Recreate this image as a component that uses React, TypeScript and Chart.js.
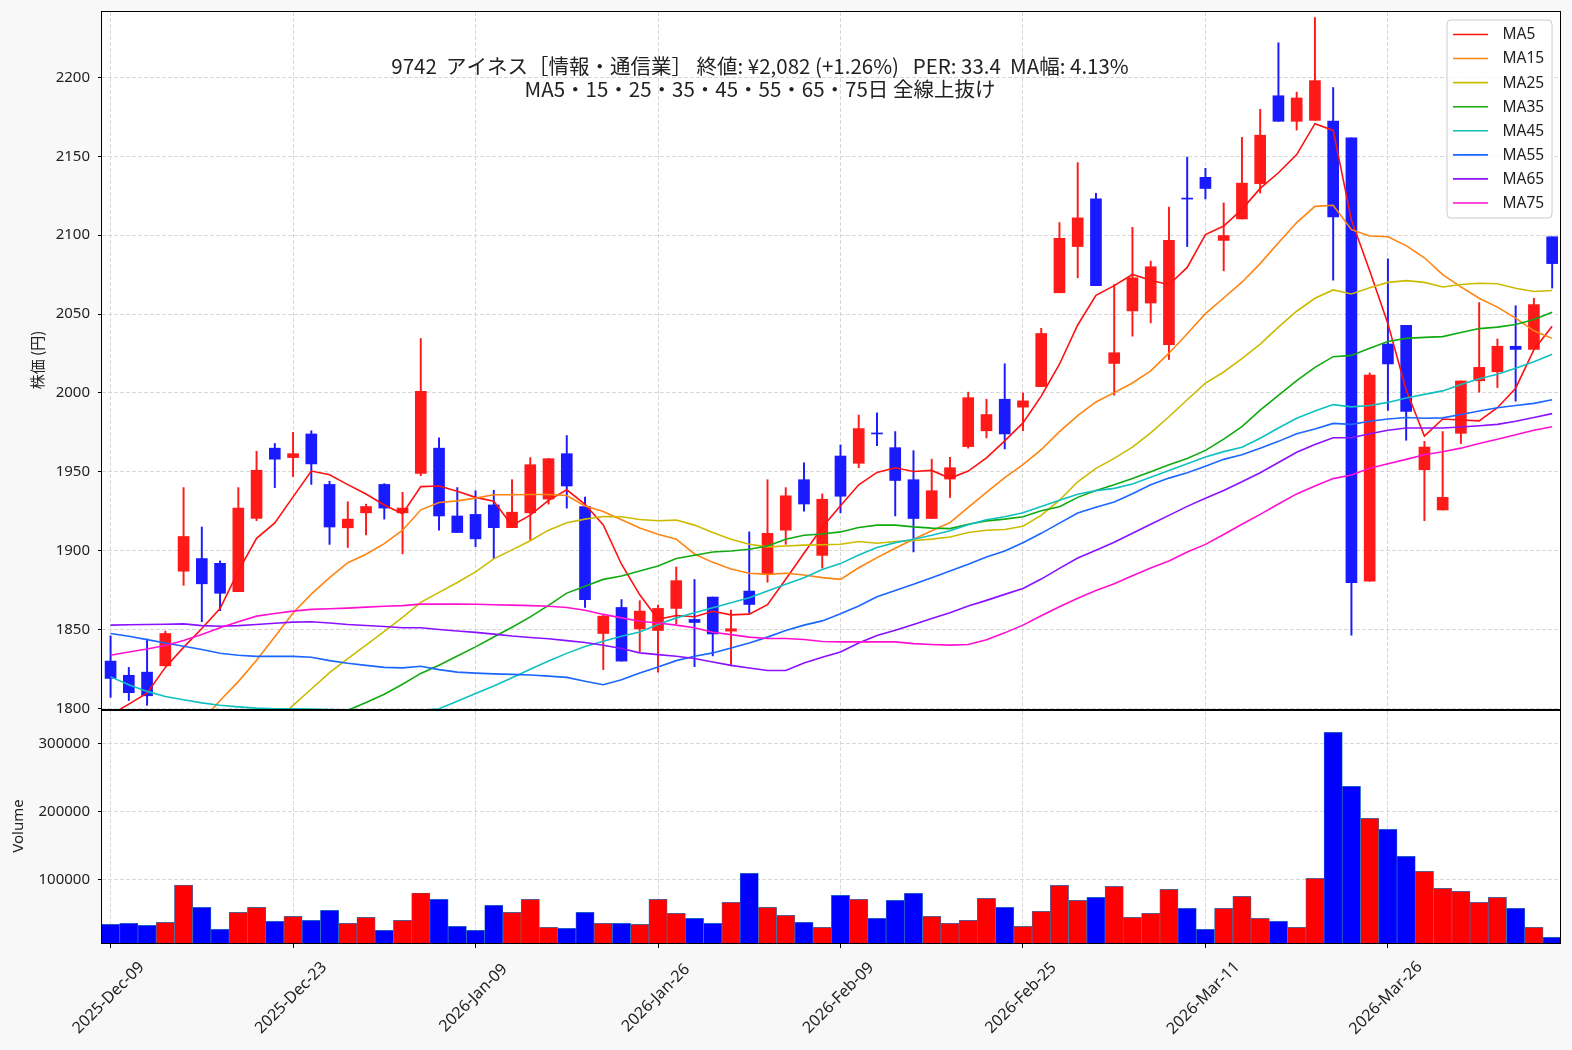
import React, { useEffect, useRef } from "react";
import { Chart, registerables } from "chart.js";

Chart.register(...registerables);

// ---------------- data ----------------
const dates = [
  "2025-Dec-09","2025-Dec-10","2025-Dec-11","2025-Dec-12","2025-Dec-15","2025-Dec-16","2025-Dec-17","2025-Dec-18","2025-Dec-19","2025-Dec-22",
  "2025-Dec-23","2025-Dec-24","2025-Dec-25","2025-Dec-26","2025-Dec-29","2025-Dec-30","2026-Jan-05","2026-Jan-06","2026-Jan-07","2026-Jan-08",
  "2026-Jan-09","2026-Jan-13","2026-Jan-14","2026-Jan-15","2026-Jan-16","2026-Jan-19","2026-Jan-20","2026-Jan-21","2026-Jan-22","2026-Jan-23",
  "2026-Jan-26","2026-Jan-27","2026-Jan-28","2026-Jan-29","2026-Jan-30","2026-Feb-02","2026-Feb-03","2026-Feb-04","2026-Feb-05","2026-Feb-06",
  "2026-Feb-09","2026-Feb-10","2026-Feb-12","2026-Feb-13","2026-Feb-16","2026-Feb-17","2026-Feb-18","2026-Feb-19","2026-Feb-20","2026-Feb-24",
  "2026-Feb-25","2026-Feb-26","2026-Feb-27","2026-Mar-02","2026-Mar-03","2026-Mar-04","2026-Mar-05","2026-Mar-06","2026-Mar-09","2026-Mar-10",
  "2026-Mar-11","2026-Mar-12","2026-Mar-13","2026-Mar-16","2026-Mar-17","2026-Mar-18","2026-Mar-19","2026-Mar-23","2026-Mar-24","2026-Mar-25",
  "2026-Mar-26","2026-Mar-27","2026-Mar-30","2026-Mar-31","2026-Apr-01","2026-Apr-02","2026-Apr-03","2026-Apr-06","2026-Apr-07","2026-Apr-08",
];
const dateTickIndex = [0, 10, 20, 30, 40, 50, 60, 70];

const opens = [
  1830, 1821, 1823, 1827, 1887, 1895, 1892, 1874, 1920.5, 1965,
  1959, 1974, 1942, 1914.5, 1924, 1942, 1924, 1949, 1965, 1922,
  1923, 1929, 1914.6, 1924, 1932.7, 1961.5, 1928, 1847.5, 1864, 1850.4,
  1849.4, 1863.4, 1856.4, 1870.6, 1849, 1874.4, 1885, 1913, 1945, 1897,
  1960, 1955.4, 1974.5, 1965.3, 1945, 1920.4, 1945.4, 1966, 1976, 1996,
  1991, 2004, 2063.5, 2092.8, 2123, 2018.7, 2052, 2057, 2030.6, 2123.5,
  2136.7, 2096.7, 2110.3, 2132.7, 2188.4, 2172.2, 2172.8, 2172.4, 2161.7, 1880.6,
  2031, 2042.8, 1951.3, 1925.8, 1974.4, 2007.7, 2013.4, 2029.6, 2027.6, 2099,
];
const highs = [
  1846, 1826, 1844, 1849, 1940, 1915, 1893.5, 1940, 1963, 1968,
  1975, 1976, 1944, 1931, 1929.5, 1942.5, 1937, 2034.5, 1971.5, 1940,
  1938, 1938.3, 1945, 1959, 1958.5, 1973, 1934, 1859, 1869, 1868.3,
  1865.5, 1889.7, 1881.7, 1870.6, 1862.3, 1911.9, 1945, 1940, 1955.7, 1936,
  1967, 1986, 1987.4, 1975.5, 1963.4, 1958, 1959.2, 2000.5, 1996, 2018.5,
  2000, 2041, 2108, 2146, 2126.6, 2068.7, 2105, 2083.6, 2117.8, 2149.5,
  2142.4, 2120.5, 2162, 2179.8, 2222, 2190.7, 2238, 2193.6, 2161.7, 2012.7,
  2085, 2042.8, 1969.3, 1975.5, 2007.6, 2057.3, 2034.2, 2055.3, 2060, 2099,
];
const lows = [
  1807, 1805, 1802, 1827, 1878, 1855, 1862, 1874, 1919, 1940,
  1947, 1942, 1904, 1902, 1910, 1920, 1898, 1947.5, 1913, 1911.5,
  1902.5, 1895, 1914.6, 1906.5, 1929.5, 1927, 1864, 1824.6, 1830, 1836,
  1823, 1853.7, 1826.5, 1833.3, 1827, 1860.6, 1880, 1904, 1925, 1889,
  1924, 1952.6, 1966.6, 1922, 1899.2, 1920.4, 1933.7, 1965, 1971.5, 1964.5,
  1976, 2004, 2063.5, 2073, 2068, 1998.6, 2036, 2044.4, 2021.2, 2092.8,
  2123, 2077.4, 2110.3, 2126.7, 2172.2, 2166.6, 2172.8, 2071.5, 1846.4, 1880.6,
  1989, 1970, 1919, 1925.8, 1967.9, 2000.5, 2003.4, 1994.8, 2027.6, 2066.5,
];
const closes = [
  1819, 1810, 1808, 1847.5, 1909, 1879, 1873, 1927, 1951, 1958,
  1961.5, 1955, 1915, 1920, 1928, 1927, 1927, 2001, 1922, 1911.5,
  1907.5, 1914.6, 1924.4, 1954.5, 1958.3, 1941, 1869, 1858.5, 1830, 1861.7,
  1863.4, 1881, 1854.5, 1847.2, 1850.5, 1865.9, 1911, 1934.8, 1929.6, 1932.6,
  1934.5, 1977.4, 1974, 1944.5, 1920.4, 1938, 1952.6, 1997, 1986.3, 1974,
  1995, 2037.7, 2098, 2111, 2068, 2025.5, 2073, 2080, 2096.7, 2122.9,
  2129.6, 2099.8, 2133, 2163.4, 2172.2, 2187, 2198, 2111.6, 1879.7, 2011.3,
  2018.4, 1988.3, 1965.7, 1933.8, 2007.6, 2016.2, 2029.6, 2027.6, 2056, 2082,
];
const volumes = [
  33800, 35300, 32400, 36800, 91600, 58800, 26500, 51500, 58800, 38200,
  45600, 39700, 54400, 35300, 44100, 25000, 39700, 79900, 70600, 30900,
  25000, 61800, 51500, 70600, 29400, 27900, 51500, 35300, 35300, 33800,
  70600, 50000, 42600, 35300, 66200, 108800, 58800, 47100, 36800, 29400,
  76500, 70600, 42600, 69100, 79400, 45600, 35300, 39700, 72100, 58800,
  30900, 52900, 91200, 69100, 73500, 89700, 44100, 50000, 85300, 57400,
  26500, 57400, 75000, 42600, 38200, 29400, 101500, 316200, 236800, 189700,
  173500, 133800, 111800, 86800, 82400, 66200, 73500, 57400, 29400, 14700,
];

const ma5 = [
  1796, 1802.7, 1809.7, 1826, 1838.7, 1850.7, 1863.3, 1887.1, 1907.8, 1917.6,
  1934.1, 1950.5, 1948.1, 1941.9, 1935.9, 1929, 1923.4, 1940.6, 1941, 1937.7,
  1933.8, 1931.3, 1916, 1922.5, 1931.9, 1938.6, 1929.4, 1916.3, 1891.4, 1872,
  1856.5, 1858.9, 1858.1, 1861.6, 1859.3, 1859.8, 1865.8, 1881.9, 1898.4, 1914.8,
  1928.5, 1941.8, 1949.6, 1952.6, 1950.2, 1950.9, 1945.9, 1950.5, 1958.9, 1969.6,
  1981, 1998, 2018.2, 2043.1, 2061.9, 2068, 2075.1, 2071.5, 2068.6, 2079.6,
  2100.4, 2105.8, 2116.4, 2129.7, 2139.6, 2151.1, 2170.7, 2166.4, 2109.7, 2077.5,
  2043.8, 2001.9, 1972.7, 1983.5, 1982.8, 1982.3, 1990.6, 2003, 2027.4, 2042.3,
];
const ma15 = [
  null, null, null, null, null, 1792, 1805, 1817, 1830.5, 1845.5,
  1860.5, 1872.5, 1882.9, 1892.4, 1897.7, 1904.5, 1913, 1925.9, 1930.6, 1931.6,
  1933.3, 1935.5, 1935.5, 1935.6, 1935.6, 1935, 1928.3, 1924.8, 1919.6, 1914.4,
  1910.4, 1907.3, 1897.9, 1892.6, 1888.4, 1885.7, 1885, 1885.7, 1884.6, 1882.9,
  1881.8, 1889.2, 1895.6, 1901.5, 1907.3, 1912.6, 1917.8, 1927.4, 1936.9, 1946.3,
  1954.5, 1964, 1975.5, 1985.6, 1994.3, 2000.2, 2006.3, 2014, 2025.2, 2037.5,
  2050.3, 2060.2, 2070.2, 2082, 2095.2, 2108, 2118.3, 2119, 2103.5, 2099.5,
  2099, 2093.4, 2085.7, 2075, 2067.2, 2060, 2054.4, 2047.4, 2039.4, 2034.6,
];
const ma25 = [
  null, null, null, null, null, null, null, null, null, 1791.6,
  1801.9, 1812.3, 1822.7, 1831.5, 1840.1, 1848.8, 1857.7, 1867.2, 1873.6, 1879.8,
  1886.6, 1894.8, 1900.5, 1906.3, 1913, 1917.7, 1920, 1921.7, 1921.5, 1919.8,
  1919, 1919.4, 1916.2, 1911.5, 1907.3, 1904.1, 1902.4, 1903, 1903.5, 1903.8,
  1904.1, 1905.8, 1904.7, 1905.8, 1906.5, 1907.3, 1908.7, 1911.5, 1913, 1913.4,
  1915.5, 1922.4, 1932, 1943.7, 1952.2, 1958.5, 1965.6, 1974.7, 1984.9, 1995.7,
  2006.2, 2013.3, 2021.8, 2030.9, 2041.7, 2051.8, 2060, 2065.3, 2062.7, 2066.7,
  2070.1, 2071.2, 2070.1, 2067.2, 2068.7, 2069.5, 2069.2, 2066.4, 2064.3, 2064.9,
];
const ma35 = [
  null, null, null, null, null, null, null, null, null, null,
  null, null, 1794, 1798.8, 1803.7, 1809, 1815.3, 1822.2, 1827.4, 1833.2,
  1839, 1845.3, 1851.5, 1858, 1865.3, 1873.1, 1877.5, 1881.8, 1883.9, 1887.1,
  1890.3, 1895, 1897.1, 1899.2, 1899.8, 1900.9, 1903, 1907.3, 1909.8, 1910.6,
  1911.9, 1914.7, 1916.2, 1916.2, 1915.1, 1914.3, 1914, 1916.8, 1918.9, 1920,
  1921.5, 1925.3, 1927.8, 1933.8, 1938.1, 1941.8, 1945.7, 1950, 1954.5, 1958.5,
  1963.6, 1970.7, 1978.7, 1989.1, 1998.5, 2007.8, 2016.2, 2023, 2023.8, 2028.4,
  2032.6, 2034.6, 2035.2, 2035.7, 2038.3, 2040.8, 2041.7, 2043.4, 2046.5, 2051.1,
];
const ma45 = [
  1820, 1815, 1810.8, 1807.6, 1805.5, 1803.5, 1802, 1801, 1800.2, 1799.8,
  1799.7, 1799.6, 1799.3, 1798.9, 1798.5, 1798.3, 1798.4, 1798.8, 1799.8, 1804.6,
  1809.4, 1814.2, 1819.4, 1824.8, 1830, 1834.9, 1839.3, 1842.6, 1845.8, 1848.5,
  1853.2, 1857.4, 1860.6, 1863.8, 1867, 1870.1, 1874.4, 1878.7, 1882.9, 1888,
  1891.8, 1897.3, 1902, 1905.1, 1907.3, 1909.8, 1912.6, 1916.4, 1919.6, 1921.5,
  1924, 1928, 1932, 1935.8, 1938.1, 1939.5, 1942.3, 1946.6, 1950.9, 1955.1,
  1959.4, 1962.8, 1965.6, 1971.3, 1977.8, 1983.9, 1988.6, 1992.6, 1991.2, 1992,
  1994, 1996.8, 1999.1, 2001.3, 2005.4, 2009, 2011.9, 2015.6, 2019.8, 2024.6,
];
const ma55 = [
  1847.5, 1845.8, 1843.6, 1841.5, 1839.4, 1837.3, 1835, 1833.7, 1833, 1833,
  1833, 1832.4, 1830.3, 1828.6, 1827.3, 1826, 1825.7, 1826.7, 1824.6, 1823,
  1822.4, 1821.9, 1821.6, 1821.2, 1820.5, 1819.7, 1817.2, 1815, 1818.2, 1822.4,
  1826.3, 1830.3, 1833.1, 1835.2, 1838.3, 1841.5, 1845.2, 1849.4, 1852.8, 1855.5,
  1860, 1864.9, 1870.8, 1874.8, 1878.7, 1882.9, 1887.1, 1891.4, 1896, 1899.8,
  1905, 1911, 1917.5, 1923.9, 1927.6, 1930.9, 1936.1, 1941.8, 1946, 1949.4,
  1953.6, 1957.9, 1960.8, 1965, 1969.3, 1974.1, 1977.2, 1980.7, 1980.1, 1982.1,
  1983.5, 1984.4, 1984, 1984.2, 1986.3, 1988.6, 1990.6, 1992, 1993.4, 1995.7,
];
const ma65 = [
  1852.8, 1853, 1853.2, 1853.4, 1853.6, 1852.5, 1852.1, 1852.5, 1853.2, 1854,
  1854.7, 1854.9, 1854.2, 1853.2, 1852.6, 1851.9, 1851.1, 1851.1, 1850, 1849.1,
  1848.2, 1847.1, 1845.9, 1845, 1844.2, 1843, 1841.8, 1840.1, 1838, 1835.2,
  1834.1, 1833.1, 1831.6, 1829.4, 1827.3, 1825.6, 1824, 1824, 1828.8, 1832.5,
  1835.8, 1841.5, 1846.2, 1849.6, 1853.2, 1857, 1860.6, 1864.9, 1868.5, 1872.3,
  1876, 1882, 1888.8, 1895.4, 1900.3, 1905.4, 1911.1, 1916.8, 1922.4, 1928.1,
  1933.2, 1938.1, 1943.7, 1949.4, 1955.9, 1962.4, 1967.3, 1971.6, 1971.6, 1974.1,
  1976.4, 1977.8, 1977.8, 1977.8, 1978.4, 1979.2, 1980.1, 1982.1, 1984.4, 1986.9,
];
const ma75 = [
  1833.7, 1835.8, 1837.7, 1839.9, 1843, 1846.9, 1851.1, 1854.9, 1858.5, 1860.2,
  1861.7, 1862.8, 1863.2, 1863.6, 1864.2, 1864.8, 1865.2, 1866.1, 1866.1, 1866.1,
  1866, 1865.7, 1865.5, 1865.2, 1864.8, 1864, 1862.2, 1859.6, 1857.4, 1855.3,
  1854.2, 1852.8, 1851.1, 1848.3, 1846.8, 1845.2, 1844.3, 1844.3, 1843.7, 1842.4,
  1842.2, 1842.2, 1842.2, 1842.2, 1841.1, 1840.5, 1840.1, 1840.5, 1843.6, 1847.9,
  1852.8, 1858.8, 1864.5, 1869.9, 1874.7, 1879, 1884.1, 1889, 1893.5, 1899.2,
  1904, 1910.3, 1916.8, 1923, 1929.6, 1936, 1941, 1945.7, 1948, 1952.3,
  1955.1, 1957.9, 1960.8, 1962.7, 1965, 1967.9, 1970.7, 1973.5, 1976.4, 1978.6,
];

const maNames = ["MA5", "MA15", "MA25", "MA35", "MA45", "MA55", "MA65", "MA75"];
const maColors = ["#ff1010", "#ff8410", "#ccbb00", "#10aa10", "#10c0c0", "#1a66ff", "#8a10ff", "#ff10d0"];
const maValues = [ma5, ma15, ma25, ma35, ma45, ma55, ma65, ma75];

const priceTicks = [1800, 1850, 1900, 1950, 2000, 2050, 2100, 2150, 2200];
const volumeTicks = [100000, 200000, 300000];

const titleLine1 = "9742  アイネス［情報・通信業］ 終値: ¥2,082 (+1.26%)   PER: 33.4  MA幅: 4.13%";
const titleLine2 = "MA5・15・25・35・45・55・65・75日 全線上抜け";
const priceAxisTitle = "株価 (円)";
const volumeAxisTitle = "Volume";

// ---------------- styles ----------------
const FONT = "'Noto Sans', 'Noto Sans CJK JP', sans-serif";
const JFONT = "'Noto Sans CJK JP', 'Noto Sans', sans-serif";
const TEXT = "#222222";
const GRID = "#d8d8d8";
const UP = "#ff1a1a";
const DOWN = "#1a1aff";
const W = 1572;

const idx = dates.map((_, i) => i);
const candleColors = idx.map((i) => (closes[i] >= opens[i] ? UP : DOWN));
const volumeColors = idx.map((i) => (closes[i] >= opens[i] ? "#ff0000" : "#0000ff"));

const framePlugin = {
  id: "frame",
  beforeDraw(chart: any) {
    const { ctx, chartArea: a } = chart;
    ctx.save();
    ctx.fillStyle = "#ffffff";
    ctx.fillRect(a.left, a.top, a.right - a.left, a.bottom - a.top);
    ctx.restore();
  },
  afterDraw(chart: any) {
    const { ctx, chartArea: a } = chart;
    ctx.save();
    ctx.strokeStyle = "#000000";
    ctx.lineWidth = 1;
    ctx.strokeRect(Math.round(a.left) - 0.5, Math.round(a.top) - 0.5, Math.round(a.right - a.left) + 1, Math.round(a.bottom - a.top));
    ctx.restore();
  },
};

const mainDecor = {
  id: "mainDecor",
  afterDraw(chart: any) {
    const { ctx } = chart;
    ctx.save();
    ctx.fillStyle = TEXT;
    ctx.font = `20.5px ${JFONT}`;
    ctx.textAlign = "center";
    ctx.textBaseline = "middle";
    ctx.fillText(titleLine1, 760, 66);
    ctx.fillText(titleLine2, 760, 89);
    ctx.save();
    ctx.translate(37, 360);
    ctx.rotate(-Math.PI / 2);
    ctx.font = `15px ${JFONT}`;
    ctx.fillText(priceAxisTitle, 0, 0);
    ctx.restore();
    const bx = 1447, by = 20, bw = 105, bh = 198, r = 4;
    ctx.beginPath();
    ctx.moveTo(bx + r, by);
    ctx.lineTo(bx + bw - r, by);
    ctx.quadraticCurveTo(bx + bw, by, bx + bw, by + r);
    ctx.lineTo(bx + bw, by + bh - r);
    ctx.quadraticCurveTo(bx + bw, by + bh, bx + bw - r, by + bh);
    ctx.lineTo(bx + r, by + bh);
    ctx.quadraticCurveTo(bx, by + bh, bx, by + bh - r);
    ctx.lineTo(bx, by + r);
    ctx.quadraticCurveTo(bx, by, bx + r, by);
    ctx.closePath();
    ctx.fillStyle = "rgba(255,255,255,0.8)";
    ctx.fill();
    ctx.strokeStyle = "#cccccc";
    ctx.lineWidth = 1;
    ctx.stroke();
    ctx.font = `15.5px ${FONT}`;
    ctx.textAlign = "left";
    ctx.textBaseline = "middle";
    maNames.forEach((name, k) => {
      const y = 34.5 + k * 24.07;
      ctx.strokeStyle = maColors[k];
      ctx.lineWidth = 1.6;
      ctx.beginPath();
      ctx.moveTo(1453, y);
      ctx.lineTo(1488, y);
      ctx.stroke();
      ctx.fillStyle = TEXT;
      ctx.fillText(name, 1502.5, y + 0.5);
    });
    ctx.restore();
  },
};

const volDecor = {
  id: "volDecor",
  afterDraw(chart: any) {
    const { ctx } = chart;
    const xs = chart.scales.x;
    ctx.save();
    ctx.fillStyle = TEXT;
    ctx.font = `16px ${FONT}`;
    ctx.textAlign = "center";
    ctx.textBaseline = "middle";
    dateTickIndex.forEach((t) => {
      const x = xs.getPixelForValue(t);
      ctx.save();
      ctx.translate(x - 2, 298);
      ctx.rotate(-Math.PI / 4);
      ctx.fillText(dates[t], 0, 0);
      ctx.restore();
    });
    ctx.font = `15px ${FONT}`;
    ctx.save();
    ctx.translate(19, 126);
    ctx.rotate(-Math.PI / 2);
    ctx.fillText(volumeAxisTitle, 0, 0);
    ctx.restore();
    ctx.restore();
  },
};

const xMin = -0.47;
const xMax = 79.43;

function yAxisCommon(ticks: number[]) {
  return {
    position: "left" as const,
    afterBuildTicks: (s: any) => {
      s.ticks = ticks.map((v) => ({ value: v }));
    },
    afterFit: (s: any) => {
      s.width = 102;
      s.paddingTop = 0;
      s.paddingBottom = 0;
    },
    grid: { color: GRID, lineWidth: 1, drawTicks: true, tickLength: 4, tickColor: "#000000", tickWidth: 1, tickBorderDash: [] },
    border: { display: false, dash: [4, 2] },
    ticks: {
      color: TEXT,
      padding: 8,
      font: { family: FONT, size: 15 },
      callback: (v: any) => String(v),
    },
  };
}

function xAxisCommon(height: number, drawTicks: boolean) {
  return {
    type: "linear" as const,
    min: xMin,
    max: xMax,
    offset: false,
    afterBuildTicks: (s: any) => {
      s.ticks = dateTickIndex.map((v) => ({ value: v }));
    },
    afterFit: (s: any) => {
      s.height = height;
      s.paddingLeft = 0;
      s.paddingRight = 0;
    },
    grid: { color: GRID, lineWidth: 1, offset: false, drawTicks, tickLength: 4, tickColor: "#000000", tickBorderDash: [] },
    border: { display: false, dash: [4, 2] },
    ticks: { display: false },
  };
}

export default function App() {
  const mainRef = useRef<HTMLCanvasElement>(null);
  const volRef = useRef<HTMLCanvasElement>(null);

  useEffect(() => {
    const mainChart = new Chart(mainRef.current as HTMLCanvasElement, {
      type: "bar",
      data: {
        datasets: [
          {
            type: "bar",
            label: "wick",
            data: idx.map((i) => ({ x: i, y: [lows[i], highs[i]] })) as any,
            backgroundColor: candleColors,
            borderWidth: 0,
            barThickness: 1.3,
            grouped: false,
            order: 30,
          } as any,
          {
            type: "bar",
            label: "body",
            data: idx.map((i) => ({ x: i, y: [opens[i], closes[i]] })) as any,
            backgroundColor: candleColors,
            borderWidth: 0,
            barThickness: 11,
            minBarLength: 1,
            grouped: false,
            order: 29,
          } as any,
          ...maValues.map((vals, k) => ({
            type: "line",
            label: maNames[k],
            data: idx.map((i) => ({ x: i, y: vals[i] })),
            borderColor: maColors[k],
            backgroundColor: maColors[k],
            borderWidth: 1.6,
            pointRadius: 0,
            tension: 0,
            fill: false,
            spanGaps: false,
            order: 10 - k,
          })) as any,
        ],
      },
      options: {
        responsive: false,
        animation: false,
        events: [],
        layout: { padding: { left: 0, right: 12, top: 12, bottom: 20 } },
        plugins: { legend: { display: false }, tooltip: { enabled: false }, title: { display: false } },
        scales: {
          x: xAxisCommon(0, false) as any,
          y: { ...yAxisCommon(priceTicks), min: 1799, max: 2241.5 } as any,
        },
      },
      plugins: [framePlugin, mainDecor],
    });

    const volChart = new Chart(volRef.current as HTMLCanvasElement, {
      type: "bar",
      data: {
        datasets: [
          {
            label: "Volume",
            data: idx.map((i) => ({ x: i, y: volumes[i] })) as any,
            backgroundColor: volumeColors,
            borderColor: "#2a78b8",
            borderWidth: 0.7,
            barPercentage: 1,
            categoryPercentage: 1,
            grouped: false,
          } as any,
        ],
      },
      options: {
        responsive: false,
        animation: false,
        events: [],
        layout: { padding: { left: 0, right: 12, top: 11, bottom: 0 } },
        plugins: { legend: { display: false }, tooltip: { enabled: false } },
        scales: {
          x: xAxisCommon(106, true) as any,
          y: { ...yAxisCommon(volumeTicks), min: 4850, max: 347500 } as any,
        },
      },
      plugins: [framePlugin, volDecor],
    });

    return () => {
      mainChart.destroy();
      volChart.destroy();
    };
  }, []);

  return (
    <div style={{ position: "absolute", left: 0, top: 0, width: W, height: 1050, background: "#f8f8f8", overflow: "hidden" }}>
      <canvas ref={mainRef} width={W} height={730} style={{ position: "absolute", left: 0, top: 0, width: W, height: 730 }} />
      <canvas ref={volRef} width={W} height={350} style={{ position: "absolute", left: 0, top: 700, width: W, height: 350 }} />
    </div>
  );
}
